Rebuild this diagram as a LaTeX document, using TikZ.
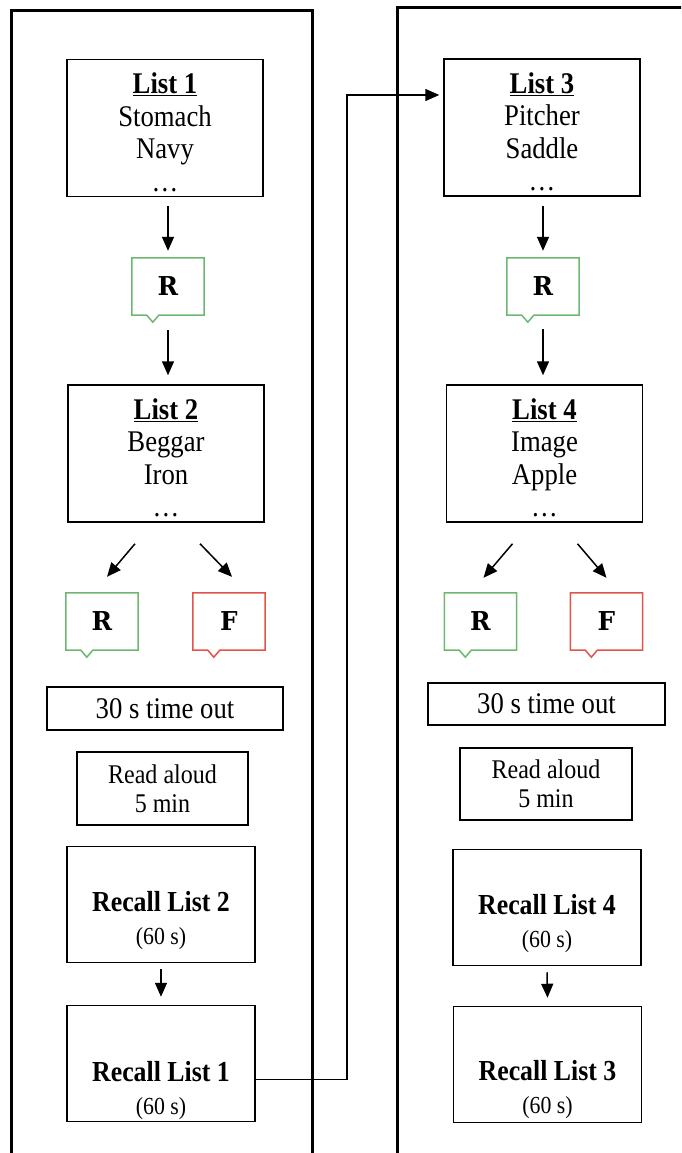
\documentclass[tikz,border=0pt]{standalone}
\usepackage{fontspec}
\setmainfont{Liberation Serif}[FakeStretch=0.89]
\newfontfamily\letterfont{DejaVu Serif}[FakeStretch=0.95]
\usetikzlibrary{calc,arrows.meta}
\definecolor{cgreen}{RGB}{108,184,112}
\definecolor{cred}{RGB}{226,84,74}
\newcommand{\callout}[4]{%
  \node[calloutbox] (#1) at (#2) {\letterfont\bfseries #4};
  \draw[line width=1.5pt,#3] ($(#1.south west)+(15,0)$) -- (#1.south west) -- (#1.north west) -- (#1.north east) -- (#1.south east) -- ($(#1.south west)+(27,0)$) -- ($(#1.south west)+(21,7)$) -- cycle;
}
\newcommand{\toppad}{\rule{0pt}{29pt}}
\begin{document}
\begin{tikzpicture}[x=1pt,y=-1pt,
  box/.style={draw,line width=1.5pt,align=center,inner sep=0pt},
  listbox/.style={box,minimum width=196pt,minimum height=137pt,font=\fontsize{30}{32.5}\selectfont},
  timebox/.style={box,minimum width=236pt,minimum height=43pt,font=\fontsize{30}{32}\selectfont},
  readbox/.style={box,minimum width=171pt,minimum height=73pt,font=\fontsize{27}{29}\selectfont},
  recallbox/.style={box,minimum width=188pt,minimum height=116pt},
  recalltext/.style={align=center,inner sep=0pt,font=\fontsize{29}{33}\selectfont},
  calloutbox/.style={inner sep=0pt,minimum width=72pt,minimum height=57pt,font=\fontsize{26}{28}\selectfont},
  arr/.style={line width=1.5pt,-{Triangle[length=14pt,width=12pt]}},
  panel/.style={line width=3pt}
]
\useasboundingbox (0,0) rectangle (681,1153);
\clip (0,0) rectangle (681,1153);
% panels
\draw[panel] (11,1160) -- (11,11) -- (312,11) -- (312,1160);
\draw[panel] (397,1160) -- (397,8) -- (690,8);

% ---------- left column ----------
\node[listbox] (L1) at (165,128) {\toppad\underline{\textbf{List 1}}\\Stomach\\Navy\\\dots};
\callout{RA}{168,286.5}{cgreen}{R}
\node[listbox] (L2) at (166,453.5) {\toppad\underline{\textbf{List 2}}\\Beggar\\Iron\\\dots};
\callout{RB}{102,621.5}{cgreen}{R}
\callout{FB}{229,621.5}{cred}{F}
\node[timebox] (T1) at (165,708.5) {30 s time out};
\node[readbox] (RD1) at (162.5,788.5) {Read aloud\\5 min};
\node[recallbox] (RC2) at (161,904.5) {};
\node[recalltext] (RC2t) at ($(RC2)+(0,16)$) {\textbf{Recall List 2}\\{\fontsize{24.5}{26}\selectfont (60 s)}};
\node[recallbox] (RC1) at (161,1063.5) {};
\node[recalltext] (RC1t) at ($(RC1)+(0,27)$) {\textbf{Recall List 1}\\{\fontsize{24.5}{26}\selectfont (60 s)}};

\draw[arr] ($(L1.south -| RA.north)+(0,9)$) -- ($(RA.north)+(0,-7)$);
\draw[arr] ($(RA.south)+(0,15)$) -- ($(L2.north -| RA.south)+(0,-9)$);
\draw[arr] ($(L2.south)+(-31,21)$) -- ($(RB.north)+(5,-16)$);
\draw[arr] ($(L2.south)+(34,21)$) -- ($(FB.north)+(3,-16)$);
\draw[arr] ($(RC2.south)+(0,6)$) -- ($(RC1.north)+(0,-8)$);

% ---------- right column ----------
\node[listbox] (L3) at (542,127.5) {\toppad\underline{\textbf{List 3}}\\Pitcher\\Saddle\\\dots};
\callout{RC}{543,286.5}{cgreen}{R}
\node[listbox] (L4) at (544.5,453.5) {\toppad\underline{\textbf{List 4}}\\Image\\Apple\\\dots};
\callout{RD}{480.5,621.5}{cgreen}{R}
\callout{FD}{606.5,621.5}{cred}{F}
\node[timebox,minimum width=237pt,minimum height=42pt] (T2) at (546.5,704) {30 s time out};
\node[readbox,minimum width=172pt,minimum height=72pt] (RD2) at (546,784) {Read aloud\\5 min};
\node[recallbox] (RC4) at (547,907.5) {};
\node[recalltext] (RC4t) at ($(RC4)+(0,16)$) {\textbf{Recall List 4}\\{\fontsize{24.5}{26}\selectfont (60 s)}};
\node[recallbox] (RC3) at (547.5,1064.5) {};
\node[recalltext] (RC3t) at ($(RC3)+(0,25)$) {\textbf{Recall List 3}\\{\fontsize{24.5}{26}\selectfont (60 s)}};

\draw[arr] ($(L3.south -| RC.north)+(0,9)$) -- ($(RC.north)+(0,-7)$);
\draw[arr] ($(RC.south)+(0,14)$) -- ($(L4.north -| RC.south)+(0,-9)$);
\draw[arr] ($(L4.south)+(-32,21)$) -- ($(RD.north)+(3,-15)$);
\draw[arr] ($(L4.south)+(33,21)$) -- ($(FD.north)+(0,-15)$);
\draw[arr] ($(RC4.south)+(0,6)$) -- ($(RC3.north)+(0,-8)$);

% connector
\coordinate (bend) at (347,95);
\draw[arr] ($(RC1.east)+(0,16)$) -| (bend) -- ($(L3.west)+(-4,-32.5)$);
\end{tikzpicture}
\end{document}
